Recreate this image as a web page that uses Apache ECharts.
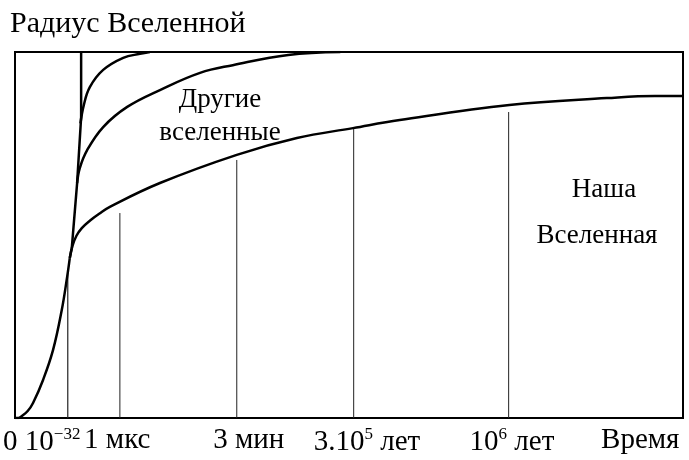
<!DOCTYPE html>
<html>
<head>
<meta charset="utf-8">
<script src="https://cdn.jsdelivr.net/npm/echarts@6/dist/echarts.min.js"></script>
<style>
  html, body { margin: 0; padding: 0; background: #fff; }
  #chart { width: 689px; height: 460px; }
</style>
</head>
<body>
<div id="chart"></div>
<script>
// Time axis runs 0..100 (non-linear epochs), radius axis 0..100.
const epochNames = ['10^-32', '1 мкс', '3 мин', '3.10^5 лет', '10^6 лет'];
const epochX     = [7.9, 15.7, 33.2, 50.7, 73.9];
const epochTop   = [40.4, 56.0, 70.5, 79.5, 83.6];

// Axis labels and where their centres sit along the time axis
const tickText = ['0 10{sup|−32}', '1 мкс', '3 мин', '3.10{sup|5} лет', '10{sup|6} лет', 'Время'];
const tickPos  = [4.0, 15.3, 35.0, 52.7, 74.4, 93.6];

// Common inflationary start
const startCurve = [[0, 0], [0.5, 0], [1.0, 0.5], [1.9, 1.9], [2.7, 4.1], [4.2, 10.4],
                    [5.7, 18.6], [7.0, 29.5], [7.8, 38.5], [8.2, 43.7]];
// Steepest branch, shooting straight up
const steepLine = [[8.2, 43.7], [8.5, 46.4], [9.3, 64.2], [9.9, 82.2], [9.9, 100]];
// Other universes
const otherA = [[9.8, 80.5], [10.3, 85.5], [11.2, 90.4], [13.2, 95.1], [16.2, 98.4],
                [18.7, 99.5], [20.2, 100]];
const otherB = [[9.3, 64.2], [9.7, 68.3], [10.8, 73.2], [13.2, 79.5], [16.8, 85.0],
                [21.7, 89.6], [27.7, 94.3], [32.6, 96.4], [40.9, 99.2], [48.7, 100]];
// Our Universe
const ourUniverse = [[8.2, 43.7], [8.6, 47.0], [9.2, 49.8], [10.0, 51.9], [11.2, 53.9],
                     [12.6, 55.8], [14.2, 57.7], [21.7, 64.2], [33.2, 71.9], [42.2, 76.5],
                     [50.6, 79.2], [57.6, 81.4], [74.0, 85.5], [88.6, 87.4], [95.8, 88.0],
                     [100, 88.0]];

const serif = "'Liberation Serif', 'DejaVu Serif', 'Times New Roman', serif";

const curveStyle = (data, smooth) => ({
  type: 'line', data: data, showSymbol: false, smooth: smooth,
  lineStyle: { color: '#000', width: 2.5 }, z: 5, silent: true
});

const series = [
  curveStyle(startCurve, 0.4),
  curveStyle(steepLine, false),
  curveStyle(otherA, 0.4),
  curveStyle(otherB, 0.4),
  curveStyle(ourUniverse, 0.4)
];
epochX.forEach((x, i) => {
  series.push({
    type: 'line', name: epochNames[i], data: [[x, 0], [x, epochTop[i]]],
    showSymbol: false, silent: true, z: 3,
    lineStyle: { color: '#222', width: i === 0 ? 1.2 : 1 }
  });
});

const textStyle = (size) => ({ font: size + 'px ' + serif, fill: '#000', textAlign: 'center' });

const chart = echarts.init(document.getElementById('chart'), null, { renderer: 'canvas' });
chart.setOption({
  backgroundColor: '#fff',
  animation: false,
  title: {
    text: 'Радиус Вселенной', left: 5, top: 4,
    textStyle: { fontFamily: serif, fontSize: 30, fontWeight: 'normal', color: '#000' }
  },
  grid: { left: 15, right: 6, top: 52, bottom: 42, show: true,
          borderColor: '#000', borderWidth: 2, backgroundColor: 'transparent' },
  xAxis: {
    type: 'value', min: 0, max: 100,
    axisLine: { show: true, lineStyle: { color: '#000', width: 2 } },
    axisTick: { show: false },
    splitLine: { show: false },
    axisLabel: {
      customValues: tickPos,
      formatter: v => tickText[tickPos.indexOf(v)],
      hideOverlap: false, showMinLabel: true, showMaxLabel: true,
      margin: 8, color: '#000', fontFamily: serif, fontSize: 29,
      rich: { sup: { fontFamily: serif, fontSize: 17, color: '#000', padding: [0, 0, 16, 0] } }
    }
  },
  yAxis: {
    type: 'value', min: 0, max: 100,
    axisLine: { show: true, lineStyle: { color: '#000', width: 2 } },
    axisTick: { show: false }, axisLabel: { show: false }, splitLine: { show: false }
  },
  graphic: [
    { type: 'text', x: 220, y: 86, style: { text: 'Другие', ...textStyle(27) } },
    { type: 'text', x: 220, y: 119, style: { text: 'вселенные', ...textStyle(27) } },
    { type: 'text', x: 604, y: 176, style: { text: 'Наша', ...textStyle(27) } },
    { type: 'text', x: 597, y: 222, style: { text: 'Вселенная', ...textStyle(27) } }
  ],
  series: series
});
</script>
</body>
</html>
